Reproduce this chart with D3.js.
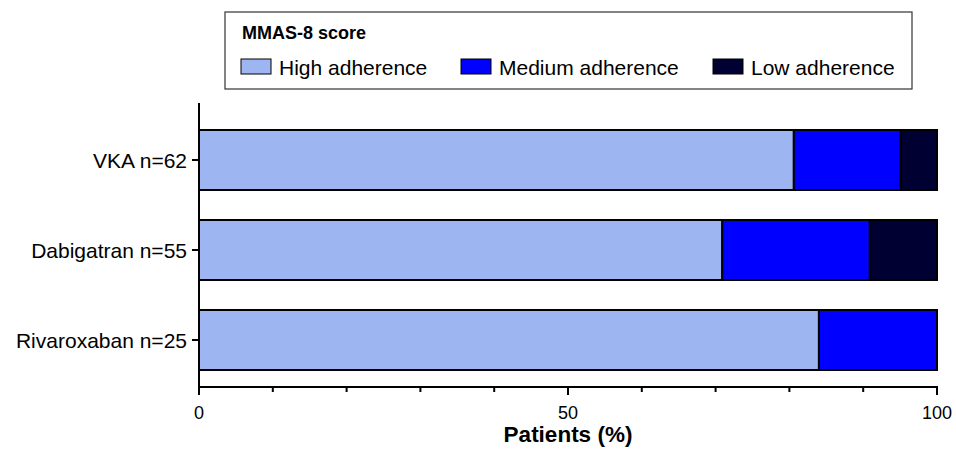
<!DOCTYPE html>
<html>
<head>
<meta charset="utf-8">
<script src="https://cdn.jsdelivr.net/npm/d3@7"></script>
<style>
body { margin: 0; background: #fff; }
text { font-family: "Liberation Sans", Arial, sans-serif; }
</style>
</head>
<body>
<script>
// data (percent of patients)
const groups = ["VKA n=62", "Dabigatran n=55", "Rivaroxaban n=25"];
const levels = ["High adherence", "Medium adherence", "Low adherence"];
const high = [80.6, 70.9, 84.0];
const medium = [14.5, 20.0, 16.0];
const low = [4.9, 9.1, 0];
const colors = ["#9db6f2", "#0000ff", "#000033"];
const xTicks = [0, 50, 100];

const width = 956, height = 453;
const svg = d3.select("body").append("svg").attr("width", width).attr("height", height);

const x = d3.scaleLinear().domain([0, 100]).range([199, 937]);
const y = d3.scaleBand().domain(groups).range([115, 385]).paddingInner(1 / 3).paddingOuter(1 / 6);

const table = groups.map((g, i) => ({ group: g, "High adherence": high[i], "Medium adherence": medium[i], "Low adherence": low[i] }));
const stack = d3.stack().keys(levels)(table);

// bars
svg.append("g").selectAll("g").data(stack).join("g")
  .attr("fill", (d, i) => colors[i])
  .selectAll("rect").data(d => d.filter(s => s[1] - s[0] > 0)).join("rect")
  .attr("x", d => x(d[0]))
  .attr("y", d => y(d.data.group))
  .attr("width", d => x(d[1]) - x(d[0]))
  .attr("height", y.bandwidth())
  .attr("stroke", "#000").attr("stroke-width", 2);

// x axis
const axisY = 387;
// y axis
svg.append("line").attr("x1", x(0)).attr("x2", x(0)).attr("y1", 103).attr("y2", axisY)
  .attr("stroke", "#000").attr("stroke-width", 2);
const yAxis = svg.append("g");
groups.forEach(g => {
  const cy = y(g) + y.bandwidth() / 2;
  yAxis.append("line").attr("x1", x(0) - 7).attr("x2", x(0)).attr("y1", cy).attr("y2", cy).attr("stroke", "#000").attr("stroke-width", 2);
  yAxis.append("text").attr("x", x(0) - 12).attr("y", cy).attr("dy", "0.36em").attr("text-anchor", "end")
    .attr("font-size", 21).text(g);
});

svg.append("line").attr("x1", x(0) - 1).attr("x2", x(100) + 1).attr("y1", axisY).attr("y2", axisY)
  .attr("stroke", "#000").attr("stroke-width", 2);
const minor = d3.range(0, 101, 10);
svg.append("g").selectAll("line").data(minor).join("line")
  .attr("x1", d => x(d)).attr("x2", d => x(d))
  .attr("y1", axisY).attr("y2", d => axisY + (d % 50 === 0 ? 8 : 5))
  .attr("stroke", "#000").attr("stroke-width", 2);
svg.append("g").selectAll("text").data(xTicks).join("text")
  .attr("x", d => x(d)).attr("y", 419).attr("text-anchor", "middle")
  .attr("font-size", 18).text(d => d);
svg.append("text").attr("x", x(50)).attr("y", 442).attr("text-anchor", "middle")
  .attr("font-size", 22.5).attr("font-weight", "bold").text("Patients (%)");

// legend
const legend = svg.append("g");
legend.append("rect").attr("x", 225).attr("y", 12).attr("width", 687).attr("height", 77)
  .attr("fill", "#fff").attr("stroke", "#333").attr("stroke-width", 1.2);
legend.append("text").attr("x", 242).attr("y", 39).attr("font-size", 18).attr("font-weight", "bold").text("MMAS-8 score");
const legX = [241, 461, 713];
levels.forEach((l, i) => {
  legend.append("rect").attr("x", legX[i]).attr("y", 59).attr("width", 30).attr("height", 15)
    .attr("fill", colors[i]).attr("stroke", "#000").attr("stroke-width", 1);
  legend.append("text").attr("x", legX[i] + 38).attr("y", 74.5).attr("font-size", 21).text(l);
});
</script>
</body>
</html>
